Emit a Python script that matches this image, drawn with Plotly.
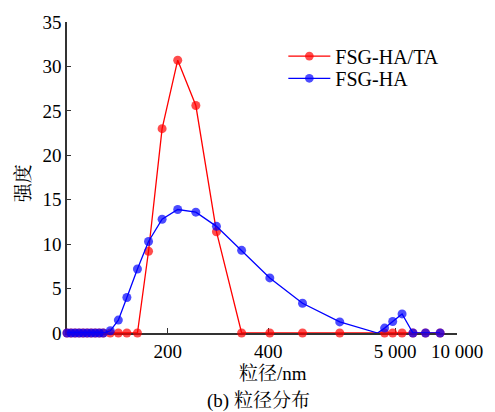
import numpy as np
import plotly.graph_objects as go

# ---- data (particle size in nm, intensity) ----
size_nm = [0, 8, 16, 24, 32, 40, 48, 56, 64, 72, 86, 102, 119, 140, 162, 189, 220,
           256, 297, 347, 403, 468, 542, 3580, 4145, 4801, 5560, 6439, 7456, 8635]
fsg_ha = [0, 0, 0, 0, 0, 0, 0, 0, 0, 0, 0.25, 1.45, 4.0, 7.2, 10.3, 12.8, 13.9,
          13.6, 12.0, 9.3, 6.2, 3.35, 1.25, 0, 0.55, 1.3, 2.15, 0, 0, 0]
fsg_ha_ta = [0, 0, 0, 0, 0, 0, 0, 0, 0, 0, 0, 0, 0, 0, 9.2, 23.0, 30.7,
             25.6, 11.4, 0, 0, 0, 0, 0, 0, 0, 0, 0, 0, 0]
x_tick_vals = [200, 400, 5000, 10000]
x_tick_text = ["200", "400", "5 000", "10 000"]
y_tick_vals = [0, 5, 10, 15, 20, 25, 30, 35]

# ---- broken x scale: linear up to 600 nm, compressed linear 2879..10000 nm ----
BREAK_NM = [0, 600, 2879, 10000]
BREAK_AX = [0, 600, 600, 775]


def to_axis(v):
    return np.interp(np.asarray(v, dtype=float), BREAK_NM, BREAK_AX)


xa = to_axis(size_nm)
msize = [0 if s == 3580 else 9 for s in size_nm]

font_serif = "Liberation Serif, Times New Roman, serif"
font_cjk = "Liberation Serif, Noto Serif CJK SC, Noto Sans CJK SC, serif"

PX_L, PX_R, PX_T, PX_B = 67, 460, 18, 333
W, H = PX_R - PX_L, PX_B - PX_T


def px_x(px):
    return (px - PX_L) / W


def px_y(py):
    return (PX_B - py) / H


fig = go.Figure()
fig.add_trace(go.Scatter(x=xa, y=fsg_ha_ta, mode="lines+markers", name="FSG-HA/TA",
                         line=dict(color="#ff0000", width=1.3),
                         marker=dict(color="#ff0000", size=msize, line=dict(width=0)),
                         cliponaxis=False, legend="legend"))
fig.add_trace(go.Scatter(x=xa, y=fsg_ha, mode="lines+markers", name="FSG-HA",
                         line=dict(color="#0000ff", width=1.3),
                         marker=dict(color="#0000ff", size=msize, line=dict(width=0)),
                         cliponaxis=False, legend="legend2"))

leg_common = dict(xanchor="left", yanchor="middle",
                  font=dict(family=font_serif, size=20, color="black"),
                  bgcolor="rgba(0,0,0,0)", itemwidth=42)

fig.update_layout(
    width=495, height=412,
    margin=dict(l=PX_L, r=495 - PX_R, t=PX_T, b=412 - PX_B),
    paper_bgcolor="white", plot_bgcolor="white",
    showlegend=True,
    legend=dict(x=px_x(285), y=px_y(52.5), **leg_common),
    legend2=dict(x=px_x(285), y=px_y(75), **leg_common),
    font=dict(family=font_serif, size=19, color="black"),
)
fig.update_xaxes(range=[0, float(to_axis(10000))], tickmode="array",
                 tickvals=to_axis(x_tick_vals), ticktext=x_tick_text,
                 ticks="inside", ticklen=5, tickcolor="#333", tickwidth=1.3,
                 showline=True, linecolor="#333", linewidth=1.5, showgrid=False,
                 zeroline=False, layer="below traces",
                 tickfont=dict(family=font_serif, size=19))
fig.update_yaxes(range=[0, 35], tickmode="array", tickvals=y_tick_vals,
                 ticks="inside", ticklen=4, tickcolor="#333", tickwidth=1.3,
                 showline=True, linecolor="#333", linewidth=1.5, showgrid=False,
                 zeroline=False, layer="below traces",
                 tickfont=dict(family=font_serif, size=19))

fig.add_annotation(text="粒径/nm", xref="paper", yref="paper",
                   x=px_x(275), y=px_y(374), xanchor="center", yanchor="middle",
                   showarrow=False, font=dict(family=font_cjk, size=19, color="black"))
fig.add_annotation(text="(b) 粒径分布", xref="paper", yref="paper",
                   x=px_x(260), y=px_y(402), xanchor="center", yanchor="middle",
                   showarrow=False, font=dict(family=font_cjk, size=19, color="black"))
fig.add_annotation(text="强度", xref="paper", yref="paper", textangle=-90,
                   x=px_x(24), y=px_y(181), xanchor="center", yanchor="middle",
                   showarrow=False, font=dict(family=font_cjk, size=19, color="black"))

fig.write_html("out.html")
